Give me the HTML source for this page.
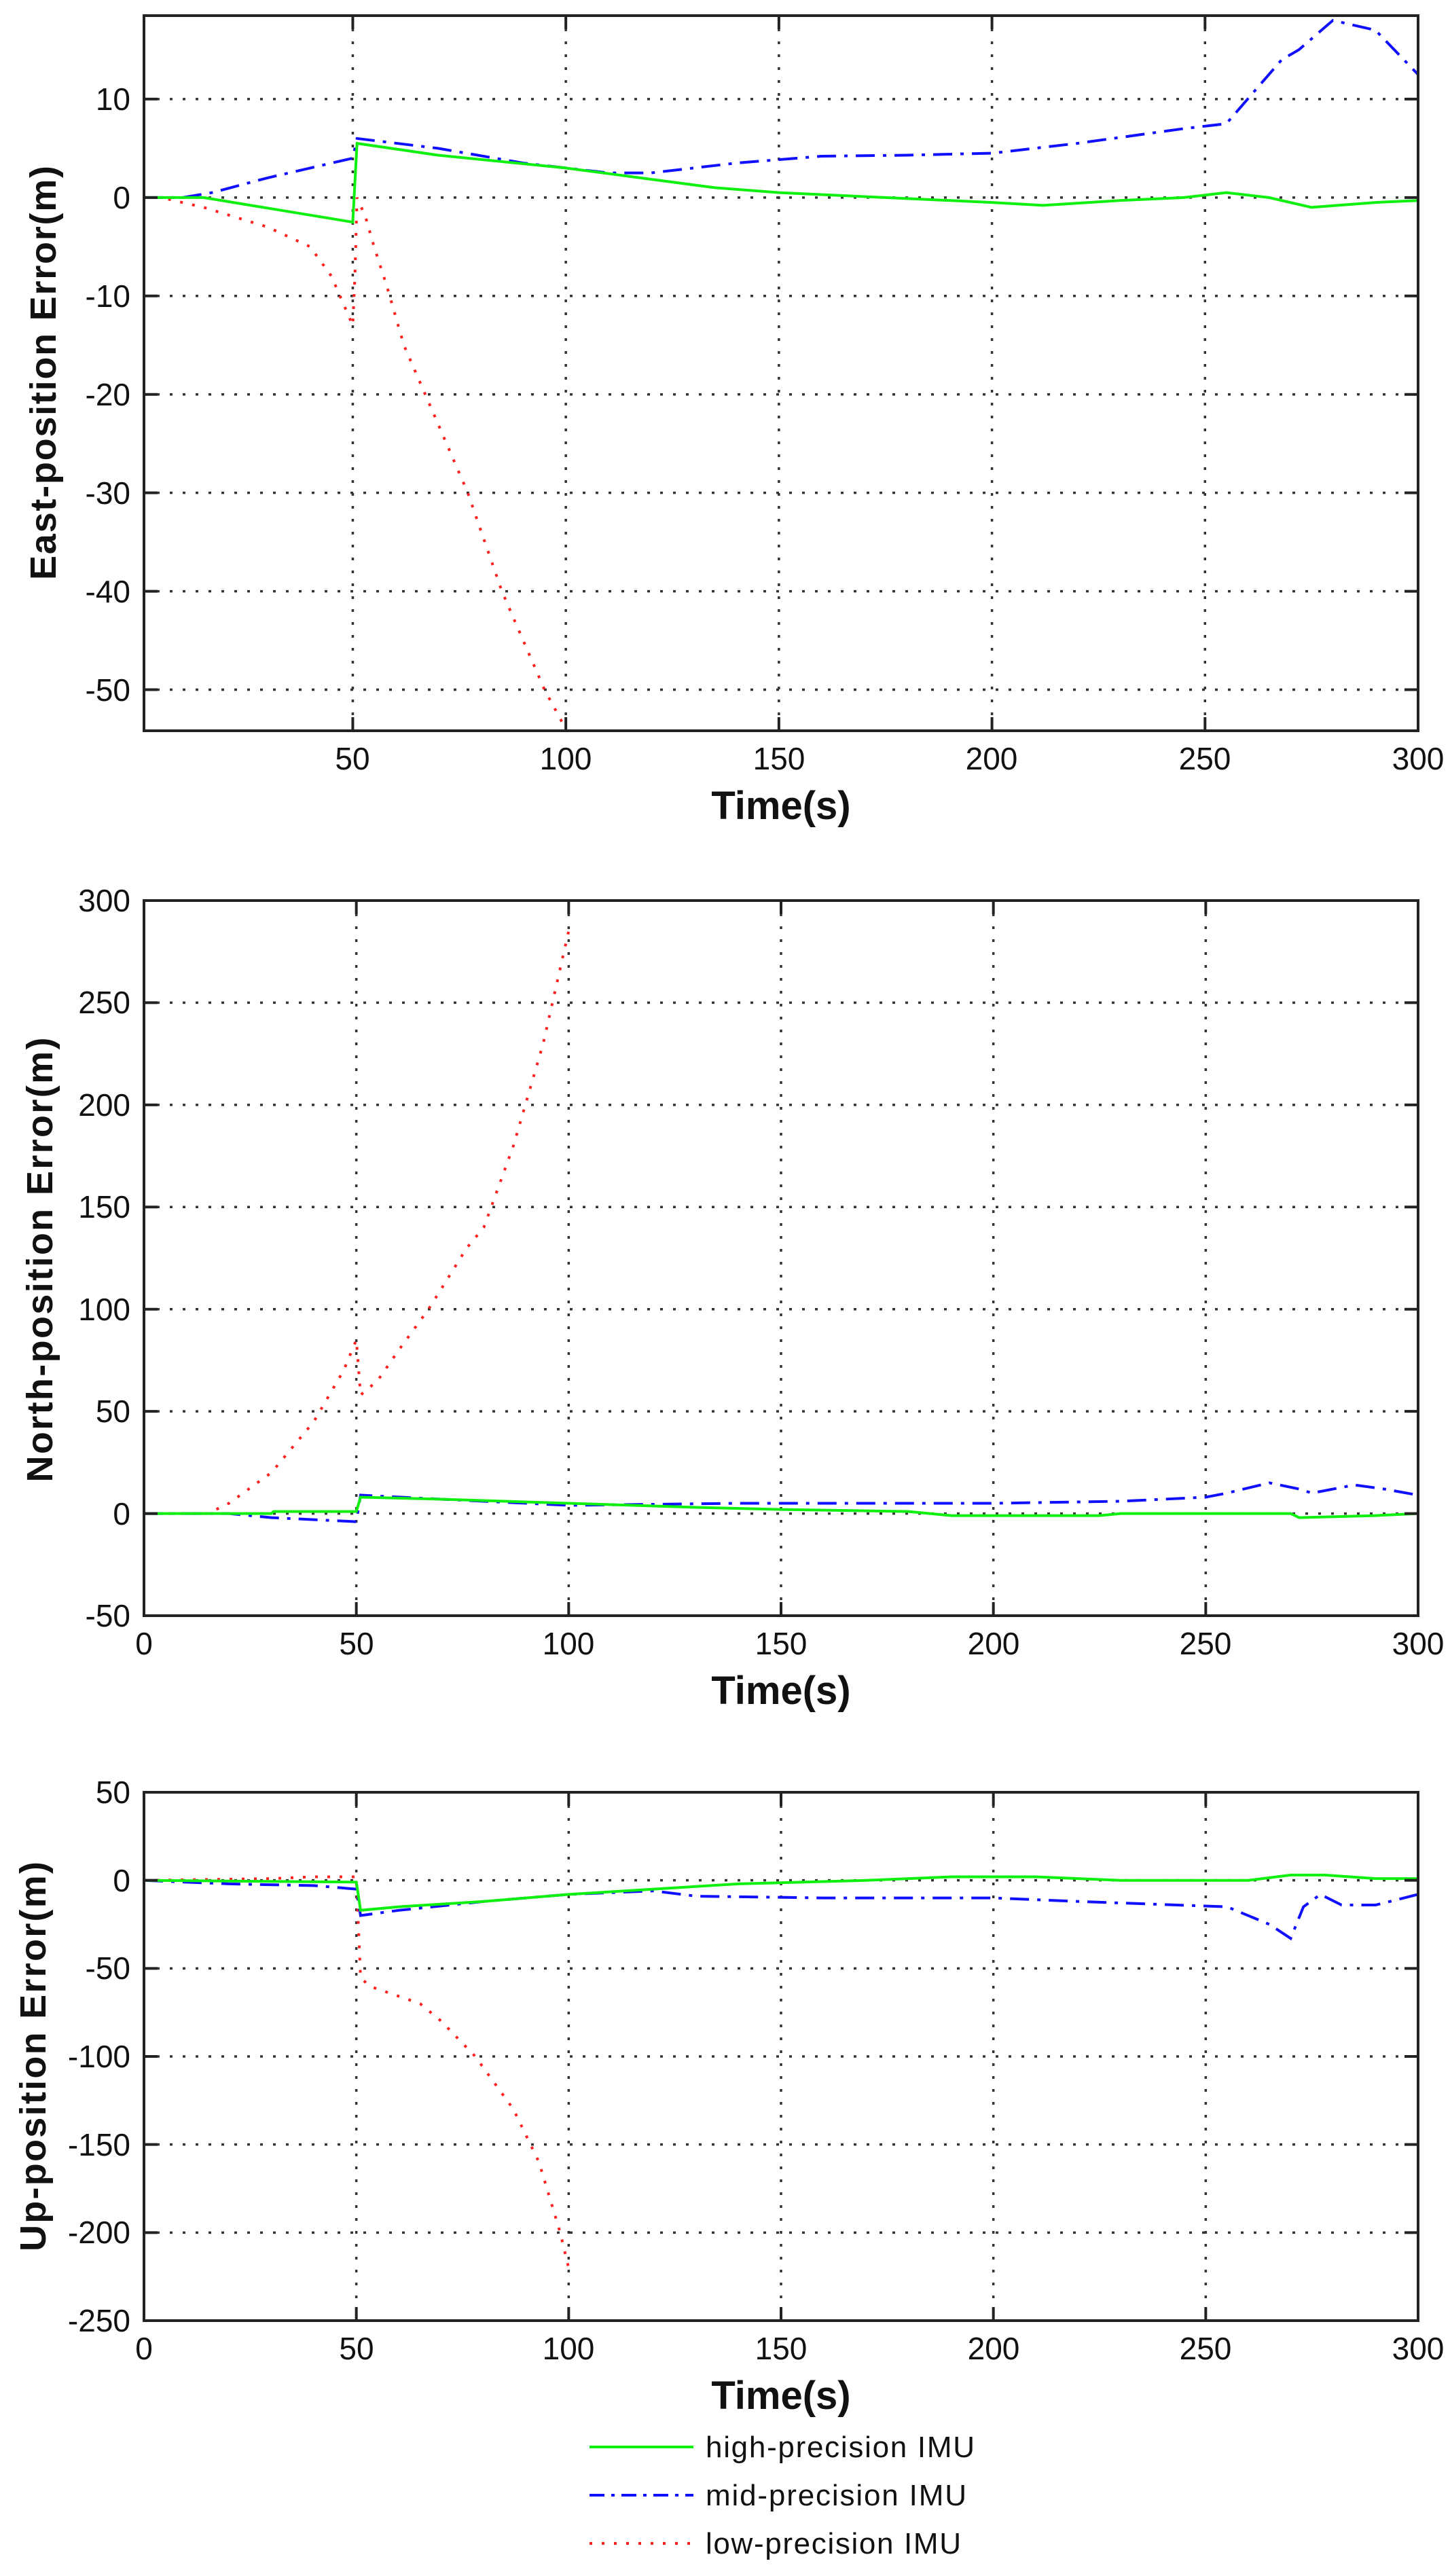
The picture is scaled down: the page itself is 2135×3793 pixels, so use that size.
<!DOCTYPE html>
<html><head><meta charset="utf-8">
<style>
html,body{margin:0;padding:0;background:#fff;}
svg{display:block;}
text{font-family:"Liberation Sans",Arial,sans-serif;fill:#111;}
.tk{font-size:46px;}
.xl{font-size:58px;font-weight:bold;}
.yl{font-size:54px;font-weight:bold;}
.lg{font-size:44px;}
.grid{stroke:#333;stroke-width:3.5;stroke-dasharray:4 15;fill:none;}
.ax{stroke:#222;stroke-width:4;fill:none;}
.g{stroke:#10f010;stroke-width:4;fill:none;}
.b{stroke:#1010ff;stroke-width:4;fill:none;stroke-dasharray:28 12 5 12;}
.r{stroke:#ff2020;stroke-width:4;fill:none;stroke-dasharray:4 14;}
</style></head>
<body>
<svg id="s" width="2135" height="3793" viewBox="0 0 2135 3793" xmlns="http://www.w3.org/2000/svg">
<rect width="2135" height="3793" fill="#fff"/>
<g id="grids"></g>
<g id="series"></g>
<g id="axes"></g>

<!-- Plot 1 labels -->
<g class="tk" text-anchor="end">
<text x="192" y="162">10</text>
<text x="192" y="307">0</text>
<text x="192" y="452">-10</text>
<text x="192" y="597">-20</text>
<text x="192" y="742">-30</text>
<text x="192" y="887">-40</text>
<text x="192" y="1032">-50</text>
</g>
<g class="tk" text-anchor="middle">
<text x="519" y="1133">50</text>
<text x="833" y="1133">100</text>
<text x="1147" y="1133">150</text>
<text x="1460" y="1133">200</text>
<text x="1774" y="1133">250</text>
<text x="2088" y="1133">300</text>
</g>
<text class="xl" x="1150" y="1206" text-anchor="middle">Time(s)</text>
<text class="yl" transform="translate(82,549) rotate(-90)" text-anchor="middle" textLength="610">East-position Error(m)</text>

<!-- Plot 2 labels -->
<g class="tk" text-anchor="end">
<text x="192" y="1342">300</text>
<text x="192" y="1492">250</text>
<text x="192" y="1643">200</text>
<text x="192" y="1793">150</text>
<text x="192" y="1944">100</text>
<text x="192" y="2094">50</text>
<text x="192" y="2245">0</text>
<text x="192" y="2395">-50</text>
</g>
<g class="tk" text-anchor="middle">
<text x="212" y="2436">0</text>
<text x="525" y="2436">50</text>
<text x="837" y="2436">100</text>
<text x="1150" y="2436">150</text>
<text x="1463" y="2436">200</text>
<text x="1775" y="2436">250</text>
<text x="2088" y="2436">300</text>
</g>
<text class="xl" x="1150" y="2509" text-anchor="middle">Time(s)</text>
<text class="yl" transform="translate(77,1855) rotate(-90)" text-anchor="middle" textLength="655">North-position Error(m)</text>

<!-- Plot 3 labels -->
<g class="tk" text-anchor="end">
<text x="192" y="2655">50</text>
<text x="192" y="2785">0</text>
<text x="192" y="2914">-50</text>
<text x="192" y="3044">-100</text>
<text x="192" y="3174">-150</text>
<text x="192" y="3303">-200</text>
<text x="192" y="3433">-250</text>
</g>
<g class="tk" text-anchor="middle">
<text x="212" y="3474">0</text>
<text x="525" y="3474">50</text>
<text x="837" y="3474">100</text>
<text x="1150" y="3474">150</text>
<text x="1463" y="3474">200</text>
<text x="1775" y="3474">250</text>
<text x="2088" y="3474">300</text>
</g>
<text class="xl" x="1150" y="3547" text-anchor="middle">Time(s)</text>
<text class="yl" transform="translate(67,3028) rotate(-90)" text-anchor="middle" textLength="574">Up-position Error(m)</text>

<!-- Legend -->
<line x1="868" y1="3603" x2="1021" y2="3603" class="g"/>
<line x1="868" y1="3674" x2="1021" y2="3674" class="b" style="stroke-dasharray:22 10 5 10"/>
<line x1="868" y1="3745" x2="1021" y2="3745" class="r"/>
<text class="lg" x="1039" y="3618" textLength="396">high-precision IMU</text>
<text class="lg" x="1039" y="3689" textLength="384">mid-precision IMU</text>
<text class="lg" x="1039" y="3760" textLength="376">low-precision IMU</text>
</svg>
<script>
const NS="http://www.w3.org/2000/svg";
function el(p,tag,a){const e=document.createElementNS(NS,tag);for(const k in a)e.setAttribute(k,a[k]);p.appendChild(e);return e;}
const G=document.getElementById('grids'),S=document.getElementById('series'),A=document.getElementById('axes');
const plots=[
 {L:212,R:2088,T:23,B:1076,x0:1,x1:300,y0:-54.17,y1:18.48,yt:[10,0,-10,-20,-30,-40,-50],xt:[50,100,150,200,250]},
 {L:212,R:2088,T:1326,B:2379,x0:0,x1:300,y0:-50,y1:300,yt:[250,200,150,100,50,0],xt:[50,100,150,200,250]},
 {L:212,R:2088,T:2639,B:3417,x0:0,x1:300,y0:-250,y1:50,yt:[0,-50,-100,-150,-200],xt:[50,100,150,200,250]}
];
const data=[
 {g:[[1,0],[15,0],[50,-2.5],[51,5.5],[70,4.3],[100,3],[135,1],[150,0.5],[175,0],[200,-0.5],[212,-0.8],[230,-0.3],[245,0],[255,0.5],[265,0],[275,-1],[290,-0.5],[300,-0.3]],
  b:[[1,0],[10,0],[17,0.5],[30,2],[40,3],[50,4],[51,6],[70,5],[90,3.5],[110,2.5],[120,2.5],[140,3.5],[160,4.2],[180,4.3],[200,4.5],[220,5.5],[245,7],[255,7.5],[260,10],[268,14],[272,15],[280,18],[290,17],[300,12.5]],
  r:[[1,0],[5,0],[15,-1],[30,-3],[40,-5],[45,-8],[50,-13],[50.5,-8],[51,0],[53,-2],[55,-5],[58,-9],[62,-15],[67,-20],[72,-25],[77,-30],[85,-40],[90,-45],[95,-50],[100,-54]]},
 {g:[[0,0],[30,0],[30.5,1],[50,1],[51,8],[70,7],[100,5],[130,3],[150,2],[180,1],[190,-1],[225,-1],[230,0],[270,0],[272,-2],[290,-1],[300,0]],
  b:[[0,0],[20,0],[30,-2],[40,-3],[50,-4],[51,9],[70,7],[100,4],[140,5],[200,5],[230,6],[250,8],[255,10],[265,15],[272,12],[275,10],[285,14],[292,12],[300,9]],
  r:[[0,0],[15,0],[20,5],[30,20],[40,45],[47,70],[50,85],[51,58],[55,65],[60,80],[67,100],[76,130],[80,140],[87,180],[94,230],[100,285]]},
 {g:[[0,0],[50,-1],[51,-17],[60,-15],[80,-12],[100,-8],[120,-5],[140,-2],[170,0],[190,2],[210,2],[230,0],[260,0],[270,3],[278,3],[290,1],[300,1]],
  b:[[0,0],[20,-2],[40,-3],[50,-5],[51,-20],[60,-17],[80,-12],[100,-8],[120,-6],[130,-9],[160,-10],[200,-10],[220,-12],[255,-15],[265,-25],[270,-33],[273,-15],[277,-8],[282,-14],[290,-14],[300,-8]],
  r:[[0,0],[30,1],[40,2],[50,2],[51,-55],[53,-60],[65,-70],[70,-80],[78,-100],[87,-130],[93,-160],[98,-200],[100,-220]]}
];
plots.forEach((p,i)=>{
 const X=t=>p.L+(t-p.x0)/(p.x1-p.x0)*(p.R-p.L);
 const Y=v=>p.B-(v-p.y0)/(p.y1-p.y0)*(p.B-p.T);
 p.yt.forEach(v=>{const y=Y(v);el(G,'line',{x1:p.L,x2:p.R,y1:y,y2:y,class:'grid'});
   el(A,'line',{x1:p.L,x2:p.L+20,y1:y,y2:y,class:'ax'});el(A,'line',{x1:p.R-20,x2:p.R,y1:y,y2:y,class:'ax'});});
 p.xt.forEach(t=>{const x=X(t);el(G,'line',{x1:x,x2:x,y1:p.T,y2:p.B,class:'grid'});
   el(A,'line',{x1:x,x2:x,y1:p.T,y2:p.T+20,class:'ax'});el(A,'line',{x1:x,x2:x,y1:p.B-20,y2:p.B,class:'ax'});});
 el(A,'rect',{x:p.L,y:p.T,width:p.R-p.L,height:p.B-p.T,class:'ax'});
 const d=data[i];
 ['r','b','g'].forEach(k=>{
   const pts=d[k].map(q=>X(q[0]).toFixed(1)+','+Y(Math.max(p.y0,Math.min(p.y1,q[1]))).toFixed(1)).join(' ');
   el(S,'polyline',{points:pts,class:k});
 });
});
</script>
</body></html>
